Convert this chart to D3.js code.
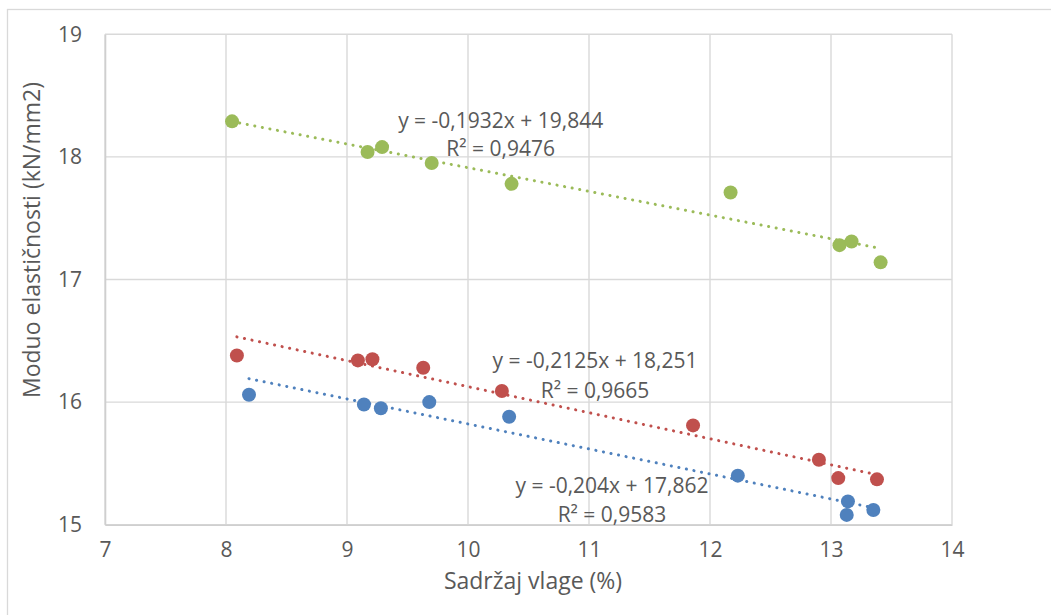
<!DOCTYPE html>
<html>
<head>
<meta charset="utf-8">
<script src="https://cdn.jsdelivr.net/npm/d3@7"></script>
<style>
  html, body { margin: 0; padding: 0; background: #fff; }
  svg { display: block; font-family: "Open Sans", "Noto Sans", sans-serif; }
</style>
</head>
<body>
<svg id="chart" width="1051" height="615"></svg>
<script>
// ---- data ----
const xTicks = [7, 8, 9, 10, 11, 12, 13, 14];
const yTicks = [15, 16, 17, 18, 19];

const blueX  = [8.19, 9.14, 9.28, 9.68, 10.34, 12.23, 13.14, 13.13, 13.35];
const blueY  = [16.06, 15.98, 15.95, 16.00, 15.88, 15.40, 15.19, 15.08, 15.12];
const redX   = [8.09, 9.09, 9.21, 9.63, 10.28, 11.86, 12.90, 13.06, 13.38];
const redY   = [16.38, 16.34, 16.35, 16.28, 16.09, 15.81, 15.53, 15.38, 15.37];
const greenX = [8.05, 9.17, 9.29, 9.70, 10.36, 12.17, 13.07, 13.17, 13.41];
const greenY = [18.29, 18.04, 18.08, 17.95, 17.78, 17.71, 17.28, 17.31, 17.14];

const seriesNames = ["blue", "red", "green"];
const slopes      = [-0.204, -0.2125, -0.1932];
const intercepts  = [17.862, 18.251, 19.844];
const eqLabels    = ["y = -0,204x + 17,862", "y = -0,2125x + 18,251", "y = -0,1932x + 19,844"];
const r2Labels    = ["R² = 0,9583", "R² = 0,9665", "R² = 0,9476"];
// label anchor (data units) for each trendline label
const labelX      = [11.19, 11.05, 10.27];
const labelY1     = [15.32, 16.34, 18.30];
const labelY2     = [15.09, 16.10, 18.07];

const xTitle = "Sadržaj vlage (%)";
const yTitle = "Moduo elastičnosti (kN/mm2)";

// ---- styles ----
const colors = { blue: "#4F81BD", red: "#C0504D", green: "#9BBB59" };
const textColor = "#595959";
const gridColor = "#d9d9d9";

const svg = d3.select("#chart");
const plot = { left: 105, right: 952, top: 34.3, bottom: 524.7 };

const x = d3.scaleLinear().domain([7, 14]).range([plot.left, plot.right]);
const y = d3.scaleLinear().domain([15, 19]).range([plot.bottom, plot.top]);

// outer chart border
svg.append("rect")
  .attr("x", 7.5).attr("y", 9.5).attr("width", 1200).attr("height", 800)
  .attr("fill", "#fff").attr("stroke", gridColor).attr("stroke-width", 1.3);

// gridlines
const grid = svg.append("g");
grid.selectAll("line.v").data(xTicks).join("line")
  .attr("x1", d => x(d)).attr("x2", d => x(d))
  .attr("y1", plot.top).attr("y2", plot.bottom)
  .attr("stroke", gridColor).attr("stroke-width", 1.4);
grid.selectAll("line.h").data(yTicks).join("line")
  .attr("x1", plot.left).attr("x2", plot.right)
  .attr("y1", d => y(d)).attr("y2", d => y(d))
  .attr("stroke", gridColor).attr("stroke-width", 1.4);

// axes
const xAxis = svg.append("g").attr("transform", `translate(0,${plot.bottom})`)
  .call(d3.axisBottom(x).tickValues(xTicks).tickSize(0).tickPadding(21).tickFormat(d3.format("d")));
const yAxis = svg.append("g").attr("transform", `translate(${plot.left},0)`)
  .call(d3.axisLeft(y).tickValues(yTicks).tickSize(0).tickPadding(23).tickFormat(d3.format("d")));
[xAxis, yAxis].forEach(a => {
  a.select(".domain").attr("stroke", "#cfcfcf").attr("stroke-width", 1.6);
  a.selectAll("text").attr("fill", textColor).attr("font-size", 21)
    .attr("font-family", "'Open Sans', sans-serif");
});
xAxis.selectAll("text").attr("dy", "0.55em");

// trendlines + points
const xs = { blue: blueX, red: redX, green: greenX };
const ys = { blue: blueY, red: redY, green: greenY };

seriesNames.forEach((name, i) => {
  const xmin = d3.min(xs[name]), xmax = d3.max(xs[name]);
  svg.append("line")
    .attr("x1", x(xmin)).attr("y1", y(slopes[i] * xmin + intercepts[i]))
    .attr("x2", x(xmax)).attr("y2", y(slopes[i] * xmax + intercepts[i]))
    .attr("stroke", colors[name]).attr("stroke-width", 3)
    .attr("stroke-linecap", "round").attr("stroke-dasharray", "0.1 7.6");
});
seriesNames.forEach(name => {
  const pts = xs[name].map((v, j) => [v, ys[name][j]]);
  svg.append("g").selectAll("circle").data(pts).join("circle")
    .attr("cx", d => x(d[0])).attr("cy", d => y(d[1])).attr("r", 7)
    .attr("fill", colors[name]);
});

// trendline labels
seriesNames.forEach((name, i) => {
  svg.append("text").attr("x", x(labelX[i])).attr("y", y(labelY1[i]))
    .attr("text-anchor", "middle").attr("dominant-baseline", "central")
    .attr("fill", textColor).attr("font-size", 21).text(eqLabels[i]);
  svg.append("text").attr("x", x(labelX[i])).attr("y", y(labelY2[i]))
    .attr("text-anchor", "middle").attr("dominant-baseline", "central")
    .attr("fill", textColor).attr("font-size", 21).text(r2Labels[i]);
});

// axis titles
svg.append("text").attr("x", 533).attr("y", 580)
  .attr("text-anchor", "middle").attr("dominant-baseline", "central")
  .attr("fill", textColor).attr("font-size", 23).text(xTitle);
svg.append("text").attr("transform", "translate(31,240) rotate(-90)")
  .attr("text-anchor", "middle").attr("dominant-baseline", "central")
  .attr("fill", textColor).attr("font-size", 23).text(yTitle);
</script>
</body>
</html>
